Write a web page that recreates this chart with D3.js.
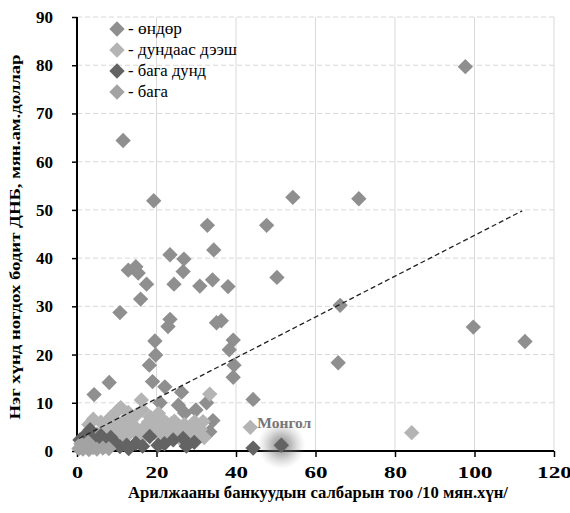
<!DOCTYPE html>
<html>
<head>
<meta charset="utf-8">
<script src="https://cdn.jsdelivr.net/npm/d3@7"></script>
<style>
  body { margin: 0; background: #fff; }
  text { font-family: "Liberation Serif", "Times New Roman", serif; }
</style>
</head>
<body>
<div id="scatter"></div>
<script>
// Income groups: [bank branches per 10k people, GDP per capita (thousand USD)]
var high = [[97.7,79.7],[11.6,64.4],[19.3,51.9],[54.3,52.6],[70.9,52.3],[32.8,46.8],[47.7,46.8],[34.4,41.7],
  [23.4,40.7],[26.9,39.8],[12.9,37.5],[14.8,38.2],[15.4,36.9],[26.7,37.2],[17.5,34.6],[24.4,34.6],[30.9,34.2],
  [34.1,35.5],[38.0,34.1],[16.0,31.5],[10.8,28.7],[23.4,27.3],[22.9,25.8],[35.1,26.6],[36.3,27.0],[19.6,22.8],
  [19.8,19.9],[18.2,17.8],[39.3,23.0],[38.3,21.0],[39.5,17.8],[39.3,15.3],[8.1,14.2],[19.0,14.4],[50.3,36.0],
  [66.2,30.2],[99.7,25.7],[112.7,22.7],[65.7,18.3],[44.3,10.7],[4.3,11.7],[22.1,13.3],[20.9,10.0],[25.5,9.5],
  [26.3,12.2],[32.6,10.0],[27.1,7.9],[29.9,8.5],[34.2,6.3],[33.4,4.0]];
var upperMiddle = [[84.2,3.8],[43.6,4.9],[33.4,11.8],[16.2,10.6],[4.1,6.6],[10.0,8.2],[12.9,8.0],[15.0,7.5],
  [31.7,6.1],[29.6,6.1],[30.5,3.0],[28.4,3.3],[23.8,5.7],[18.5,7.0],[20.0,5.5],[22.0,4.5],[17.0,5.0],[14.0,5.5],
  [11.5,6.0],[9.0,5.0],[7.0,4.5],[13.0,3.5],[16.0,3.0],[19.5,3.8],[25.5,4.8],[27.0,5.5],[21.5,6.5],[8.5,7.0],
  [6.0,6.0],[11.0,3.0],[24.5,3.5],[26.0,2.5],[15.5,2.0],[2.0,3.0],[3.0,5.5],[5.0,3.5],[6.5,2.5],[8.0,3.8],
  [9.5,6.5],[10.5,4.2],[12.0,5.0],[13.5,6.8],[14.5,4.0],[17.5,3.5],[18.0,6.0],[19.0,4.8],[21.0,3.0],[22.5,5.8],
  [23.0,2.5],[24.5,6.2],[26.5,3.8],[27.5,4.2],[29.0,5.0],[31.0,4.5],[32.0,2.8],[11.0,9.0],[16.5,8.5],[20.5,7.8]];
var lowerMiddle = [[44.3,0.6],[3.3,4.4],[0.75,2.3],[4.1,2.3],[5.5,1.5],[10.8,0.9],[12.5,1.2],[14.8,1.6],
  [18.3,3.0],[20.4,1.2],[24.2,2.3],[26.7,2.6],[7.0,1.0],[2.5,0.8],[8.5,2.8],[16.5,1.0],[29.5,1.8],[6.0,3.2],
  [9.5,1.8],[13.0,0.5],[22.0,1.5],[27.5,1.0],[3.0,3.2],[1.5,2.8]];
var low = [[0.5,0.5],[1.5,0.4],[2.0,1.0],[3.0,0.3],[1.0,1.5],[4.0,0.7],[5.0,0.4],[6.5,0.6],[2.8,1.8],[8.0,0.5]];
var mongolia = [51.4, 1.2];
var trend = [[0.5, 2.6], [112, 49.8]];

var seriesNames = ["- өндөр", "- дундаас дээш", "- бага дунд", "- бага"];
var legendWidths = [54, 109, 78, 40];
var seriesColors = ["#8f8f8f", "#b4b4b4", "#636363", "#a3a3a3"];
var xTicks = [0, 20, 40, 60, 80, 100, 120],
    yTicks = [0, 10, 20, 30, 40, 50, 60, 70, 80, 90];

var serif = '"Liberation Serif", "Times New Roman", serif';
var width = 570, height = 513,
    margin = {top: 17, right: 13, bottom: 62, left: 77};

var x = d3.scaleLinear().domain([0, 120]).range([margin.left, width - margin.right - 3]);
var y = d3.scaleLinear().domain([0, 90]).range([height - margin.bottom, margin.top]);

var svg = d3.select("#scatter").append("svg")
  .attr("width", width)
  .attr("height", height);

var defs = svg.append("defs");
var glow = defs.append("radialGradient").attr("id", "glow");
glow.append("stop").attr("offset", "0%").attr("stop-color", "#555").attr("stop-opacity", 0.75);
glow.append("stop").attr("offset", "45%").attr("stop-color", "#777").attr("stop-opacity", 0.45);
glow.append("stop").attr("offset", "100%").attr("stop-color", "#aaa").attr("stop-opacity", 0);

// grid
svg.append("g").selectAll("line").data(yTicks.slice(1)).enter().append("line")
  .attr("x1", x(0)).attr("x2", x(120))
  .attr("y1", function(d) { return y(d); }).attr("y2", function(d) { return y(d); })
  .attr("stroke", "#d9d9d9").attr("stroke-dasharray", "5,3");
svg.append("g").selectAll("line").data(xTicks.slice(1)).enter().append("line")
  .attr("x1", function(d) { return x(d); }).attr("x2", function(d) { return x(d); })
  .attr("y1", y(0)).attr("y2", y(90))
  .attr("stroke", "#d9d9d9");

// axes
var xAxis = svg.append("g")
  .attr("transform", "translate(0," + y(0) + ")")
  .call(d3.axisBottom(x).tickValues(xTicks).tickSize(6).tickPadding(9));
var yAxis = svg.append("g")
  .attr("transform", "translate(" + x(0) + ",0)")
  .call(d3.axisLeft(y).tickValues(yTicks).tickSize(5).tickPadding(19));
[xAxis, yAxis].forEach(function(a) {
  a.attr("font-family", serif);
  a.select(".domain").attr("stroke", "#000").attr("stroke-width", 2);
  a.selectAll(".tick line").attr("stroke", "#000").attr("stroke-width", 1.5);
  a.selectAll(".tick text")
    .style("font-family", serif)
    .attr("font-size", 17).attr("font-weight", "bold").attr("fill", "#000");
});
// x tick labels are drawn wider than the y ones in the original
xAxis.selectAll(".tick text")
  .attr("textLength", function(d) { return String(d).length * 12 - 1; })
  .attr("lengthAdjust", "spacingAndGlyphs");
xAxis.select(".domain").attr("d", "M" + x(0) + ",0H" + x(120));
yAxis.select(".domain").attr("d", "M0," + y(0) + "V" + y(90));

var diamond = d3.symbol().type(d3.symbolSquare).size(118);

function drawSeries(data, color) {
  svg.append("g").selectAll("path").data(data).enter().append("path")
    .attr("d", diamond)
    .attr("transform", function(d) { return "translate(" + x(d[0]) + "," + y(d[1]) + ") rotate(45)"; })
    .attr("fill", color);
}
drawSeries(high, seriesColors[0]);
drawSeries(upperMiddle, seriesColors[1]);
drawSeries(lowerMiddle, seriesColors[2]);
drawSeries(low, seriesColors[3]);

// trend line
svg.append("path")
  .datum(trend)
  .attr("d", d3.line().x(function(d) { return x(d[0]); }).y(function(d) { return y(d[1]); }))
  .attr("fill", "none").attr("stroke", "#222").attr("stroke-width", 1.3)
  .attr("stroke-dasharray", "5,3");

// Mongolia highlight
svg.append("circle")
  .attr("cx", x(mongolia[0])).attr("cy", y(mongolia[1])).attr("r", 24)
  .attr("fill", "url(#glow)");
svg.append("path")
  .attr("d", diamond)
  .attr("transform", "translate(" + x(mongolia[0]) + "," + y(mongolia[1]) + ") rotate(45)")
  .attr("fill", seriesColors[2]);
svg.append("text")
  .attr("x", x(mongolia[0]) - 24).attr("y", y(mongolia[1]) - 17)
  .attr("font-size", 14).attr("font-weight", "bold").attr("fill", "#777")
  .attr("textLength", 54).attr("lengthAdjust", "spacingAndGlyphs")
  .text("Монгол");

// legend
var legend = svg.append("g").selectAll("g").data(seriesNames).enter().append("g")
  .attr("transform", function(d, i) { return "translate(117," + (29 + i * 21) + ")"; });
legend.append("path")
  .attr("d", diamond).attr("transform", "rotate(45)")
  .attr("fill", function(d, i) { return seriesColors[i]; });
legend.append("text")
  .attr("x", 11).attr("y", 5)
  .attr("font-size", 16).attr("fill", "#000")
  .attr("textLength", function(d, i) { return legendWidths[i]; })
  .attr("lengthAdjust", "spacingAndGlyphs")
  .text(function(d) { return d; });

// axis titles
svg.append("text")
  .attr("x", 318).attr("y", 498)
  .attr("text-anchor", "middle")
  .attr("font-size", 16).attr("font-weight", "bold")
  .attr("textLength", 380).attr("lengthAdjust", "spacingAndGlyphs")
  .text("Арилжааны банкуудын салбарын тоо /10 мян.хүн/");
svg.append("text")
  .attr("transform", "translate(20,237) rotate(-90)")
  .attr("text-anchor", "middle")
  .attr("font-size", 15.5).attr("font-weight", "bold")
  .attr("textLength", 365).attr("lengthAdjust", "spacingAndGlyphs")
  .text("Нэг хүнд ногдох бодит ДНБ, мян.ам.доллар");
</script>
</body>
</html>
